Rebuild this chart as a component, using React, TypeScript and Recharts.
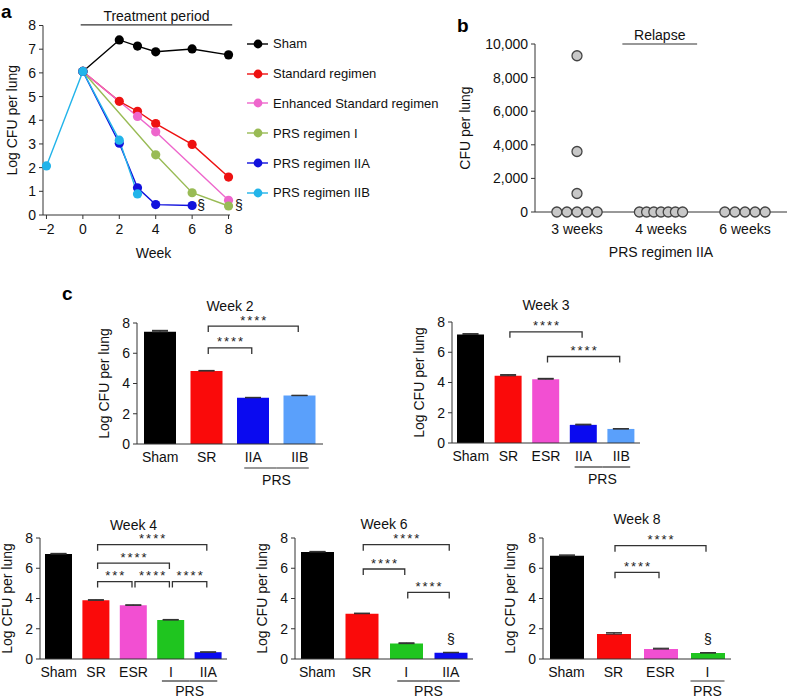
import React from 'react';
import {
  LineChart, Line, XAxis, YAxis, ReferenceLine, Legend,
  ScatterChart, Scatter, BarChart, Bar, Cell, ErrorBar, LabelList,
} from 'recharts';

const FONT = '"Liberation Sans", Arial, Helvetica, sans-serif';
const INK = '#111';
const AXIS = '#333';

// ---- panel a: log CFU per lung over time
const seriesNames = ['Sham', 'Standard regimen', 'Enhanced Standard regimen', 'PRS regimen I', 'PRS regimen IIA', 'PRS regimen IIB'];
const seriesColors = ['#000000', '#ee1111', '#ee66cc', '#99bb55', '#1111dd', '#22b4ea'];
const shamWeeks = [0, 2, 3, 4, 6, 8];
const shamLog = [6.06, 7.39, 7.13, 6.89, 7.01, 6.76];
const srWeeks = [0, 2, 3, 4, 6, 8];
const srLog = [6.06, 4.8, 4.38, 3.86, 2.98, 1.6];
const esrWeeks = [0, 3, 4, 8];
const esrLog = [6.06, 4.16, 3.51, 0.62];
const prs1Weeks = [0, 4, 6, 8];
const prs1Log = [6.06, 2.54, 0.94, 0.38];
const prs2aWeeks = [0, 2, 3, 4, 6];
const prs2aLog = [6.06, 3.03, 1.15, 0.44, 0.4];
const prs2bWeeks = [-2, 0, 2, 3];
const prs2bLog = [2.07, 6.06, 3.16, 0.89];
const weekTicks = [-2, 0, 2, 4, 6, 8];
const logTicksA = [0, 1, 2, 3, 4, 5, 6, 7, 8];
const sectionMarked = ['PRS regimen I', 'PRS regimen IIA'];

// ---- panel b: relapse, CFU per lung
const relapseGroups = ['3 weeks', '4 weeks', '6 weeks'];
const relapseCfu3 = [9300, 3600, 1100, 0, 0, 0, 0, 0];
const relapseCfu4 = [0, 0, 0, 0, 0, 0, 0];
const relapseCfu6 = [0, 0, 0, 0, 0];
const cfuTicks = [0, 2000, 4000, 6000, 8000, 10000];

// ---- panel c: per-week bars
const wk2Groups = ['Sham', 'SR', 'IIA', 'IIB'];
const wk2Log = [7.42, 4.83, 3.06, 3.2];
const wk2Err = [0.09, 0.03, 0.02, 0.02];
const wk2Brackets: [string, string, number, string][] = [['SR', 'IIB', 7.8, '****'], ['SR', 'IIA', 6.35, '****']];

const wk3Groups = ['Sham', 'SR', 'ESR', 'IIA', 'IIB'];
const wk3Log = [7.18, 4.45, 4.22, 1.2, 0.93];
const wk3Err = [0.05, 0.07, 0.05, 0.04, 0.02];
const wk3Brackets: [string, string, number, string][] = [['SR', 'IIA', 7.35, '****'], ['ESR', 'IIB', 5.72, '****']];

const wk4Groups = ['Sham', 'SR', 'ESR', 'I', 'IIA'];
const wk4Log = [6.94, 3.88, 3.55, 2.58, 0.45];
const wk4Err = [0.04, 0.04, 0.03, 0.03, 0.02];
const wk4Brackets: [string, string, number, string][] = [
  ['SR', 'IIA', 7.56, '****'], ['SR', 'I', 6.34, '****'],
  ['SR', 'ESR', 5.12, '***'], ['ESR', 'I', 5.12, '****'], ['I', 'IIA', 5.12, '****'],
];

const wk6Groups = ['Sham', 'SR', 'I', 'IIA'];
const wk6Log = [7.08, 3.0, 1.02, 0.42];
const wk6Err = [0.03, 0.03, 0.05, 0.02];
const wk6Marks = ['', '', '', '§'];
const wk6Brackets: [string, string, number, string][] = [['SR', 'IIA', 7.56, '****'], ['SR', 'I', 5.95, '****'], ['I', 'IIA', 4.4, '****']];

const wk8Groups = ['Sham', 'SR', 'ESR', 'I'];
const wk8Log = [6.83, 1.65, 0.66, 0.4];
const wk8Err = [0.05, 0.09, 0.05, 0.02];
const wk8Marks = ['', '', '', '§'];
const wk8Brackets: [string, string, number, string][] = [['SR', 'I', 7.49, '****'], ['SR', 'ESR', 5.73, '****']];

const logTicksC = [0, 2, 4, 6, 8];
const BAR_COLORS: Record<string, string> = {
  Sham: '#000000', SR: '#fa0a0a', ESR: '#f24fd2', I: '#1fc51f', IIA: '#0a0af0', IIB: '#5aa0fb',
};
const PRS_MEMBERS = ['I', 'IIA', 'IIB'];

const courseSeries = [
  { weeks: shamWeeks, log: shamLog },
  { weeks: srWeeks, log: srLog },
  { weeks: esrWeeks, log: esrLog },
  { weeks: prs1Weeks, log: prs1Log },
  { weeks: prs2aWeeks, log: prs2aLog },
  { weeks: prs2bWeeks, log: prs2bLog },
].map((s, i) => ({
  name: seriesNames[i],
  color: seriesColors[i],
  marked: sectionMarked.includes(seriesNames[i]),
  data: s.weeks.map((w, j) => ({ week: w, log: s.log[j] })),
}));

const relapsePoints = [relapseCfu3, relapseCfu4, relapseCfu6].flatMap((vals, g) => {
  const zeros = vals.filter((v) => v === 0).length;
  const step = Math.min(0.131, 0.6 / zeros);
  let k = 0;
  return vals.map((v) => {
    if (v !== 0) return { x: g + 1, y: v };
    const x = g + 1 + (k - (zeros - 1) / 2) * step;
    k += 1;
    return { x, y: v };
  });
});

const minus = (v: number) => (v < 0 ? `\u2212${Math.abs(v)}` : String(v));

function PanelLetter({ ch, left, top }: { ch: string; left: number; top: number }) {
  return (
    <div style={{ position: 'absolute', left, top, fontSize: 19, lineHeight: '19px', fontWeight: 700, color: '#000' }}>{ch}</div>
  );
}

function SeriesKey({ payload }: any) {
  return (
    <div style={{ fontFamily: FONT, fontSize: 13, color: INK }}>
      {(payload || []).map((p: any) => (
        <div key={p.value} style={{ height: 29.8, display: 'flex', alignItems: 'center', whiteSpace: 'nowrap' }}>
          <svg width={21} height={10} style={{ flex: 'none' }}>
            <line x1={0} y1={5} x2={21} y2={5} stroke={p.color} strokeWidth={1.4} />
            <circle cx={11} cy={5} r={4.4} fill={p.color} />
          </svg>
          <span style={{ marginLeft: 5 }}>{p.value}</span>
        </div>
      ))}
    </div>
  );
}

function CourseChart() {
  return (
    <LineChart width={440} height={262} margin={{ top: 25.5, right: 210, bottom: 0, left: 0 }}>
      <XAxis
        type="number" dataKey="week" domain={[-2.19, 8.08]} ticks={weekTicks} tickFormatter={minus}
        stroke={AXIS} tickSize={4} tickMargin={5} height={47}
        tick={{ fill: INK, fontSize: 14, fontFamily: FONT }}
        label={{ value: 'Week', position: 'insideBottom', offset: 4, dx: 17, style: { fill: INK, fontSize: 14, fontFamily: FONT } }}
      />
      <YAxis
        type="number" domain={[0, 8]} ticks={logTicksA} width={43} stroke={AXIS} tickSize={4} tickMargin={3}
        tick={{ fill: INK, fontSize: 14, fontFamily: FONT }}
        label={{ value: 'Log CFU per lung', angle: -90, position: 'insideLeft', offset: 12, style: { textAnchor: 'middle', fill: INK, fontSize: 14, fontFamily: FONT } }}
      />
      <ReferenceLine
        segment={[{ x: -0.12, y: 8.03 }, { x: 8.2, y: 8.03 }]} stroke={AXIS} strokeWidth={1.2} ifOverflow="visible"
        label={{ value: 'Treatment period', position: 'top', offset: 4, style: { fill: INK, fontSize: 14, fontFamily: FONT } }}
      />
      {courseSeries.map((s) => {
        const last = s.data.length - 1;
        return (
          <Line
            key={s.name} name={s.name} data={s.data} dataKey="log" stroke={s.color} strokeWidth={1.4}
            isAnimationActive={false}
            dot={(p: any) => (
              <g key={`${s.name}-${p.index}`}>
                <circle cx={p.cx} cy={p.cy} r={4.6} fill={s.color} />
                {s.marked && p.index === last ? (
                  <text x={p.cx + (s.name === 'PRS regimen I' ? 6.5 : 5)} y={p.cy + 4} fontSize={14} fontFamily={FONT} fill={INK}>§</text>
                ) : null}
              </g>
            )}
            activeDot={false}
          />
        );
      })}
      <Legend
        layout="vertical" align="center" verticalAlign="middle" content={SeriesKey as any}
        itemSorter={(item: any) => seriesNames.indexOf(item.value)}
        wrapperStyle={{ left: 247, top: 29, width: 190 }}
      />
    </LineChart>
  );
}

function RelapseChart() {
  return (
    <ScatterChart width={348} height={262} margin={{ top: 44, right: 1, bottom: 0, left: 0 }}>
      <XAxis
        type="number" dataKey="x" domain={[0.5, 3.5]} ticks={[1, 2, 3]} tickFormatter={(v: number) => relapseGroups[v - 1]}
        stroke={AXIS} tickLine={false} tickSize={0} tickMargin={12} height={50}
        tick={{ fill: INK, fontSize: 14, fontFamily: FONT }}
        label={{ value: 'PRS regimen IIA', position: 'insideBottom', offset: 5, style: { fill: INK, fontSize: 14, fontFamily: FONT } }}
      />
      <YAxis
        type="number" dataKey="y" domain={[0, 10000]} ticks={cfuTicks} width={95} stroke={AXIS} tickSize={4} tickMargin={3}
        tickFormatter={(v: number) => v.toLocaleString('en-US')}
        tick={{ fill: INK, fontSize: 14, fontFamily: FONT }}
        label={{ value: 'CFU per lung', angle: -90, position: 'insideLeft', offset: 25, style: { textAnchor: 'middle', fill: INK, fontSize: 14, fontFamily: FONT } }}
      />
      <ReferenceLine
        segment={[{ x: 1.54, y: 10000 }, { x: 2.43, y: 10000 }]} stroke={AXIS} strokeWidth={1.2} ifOverflow="visible"
        label={{ value: 'Relapse', position: 'top', offset: 4, style: { fill: INK, fontSize: 14, fontFamily: FONT } }}
      />
      <Scatter
        data={relapsePoints} isAnimationActive={false}
        shape={(p: any) => <circle cx={p.cx} cy={p.cy} r={5} fill="#c8c8c8" stroke="#444" strokeWidth={1.3} />}
      />
    </ScatterChart>
  );
}

const bracketShape = (stars: string) => (p: any) => {
  const l = p.x1 + 1.5;
  const r = p.x2 - 1.5;
  const y = p.y1;
  return (
    <g>
      <path d={`M${l},${y + 6}V${y}H${r}V${y + 6}`} fill="none" stroke={AXIS} strokeWidth={1.3} />
      <text x={(l + r) / 2 + 1} y={y - 1.5} textAnchor="middle" fontSize={13} fontFamily={FONT} fill="#222" style={{ letterSpacing: 2 }}>{stars}</text>
    </g>
  );
};

function GroupTick({ x, y, payload, groups, band, lineDy, prsDy }: any) {
  const name = payload.value;
  const index = groups.indexOf(name);
  const prs = groups.map((g: string, i: number) => (PRS_MEMBERS.includes(g) ? i : -1)).filter((i: number) => i >= 0);
  const first = prs[0];
  const last = prs[prs.length - 1];
  const inPrs = PRS_MEMBERS.includes(name);
  const single = first === last;
  const ext = single ? 17 : 9;
  const left = index === first ? x - ext : x - band / 2;
  const right = index === last ? x + ext : x + band / 2;
  return (
    <g>
      <text x={x} y={y} dy="0.71em" textAnchor="middle" fontSize={14} fontFamily={FONT} fill={INK}>{name}</text>
      {inPrs ? <line x1={left} x2={right} y1={y + lineDy} y2={y + lineDy} stroke={AXIS} strokeWidth={1.2} /> : null}
      {inPrs && index === last ? (
        <text x={x - ((last - first) * band) / 2} y={y + prsDy} textAnchor="middle" fontSize={14} fontFamily={FONT} fill={INK}>PRS</text>
      ) : null}
    </g>
  );
}

type Box = {
  axisLeft: number; axisRight: number; plotTop: number; plotBottom: number; titleY: number; barSize: number;
  lineDy: number; prsDy: number;
};

function WeekPanel({ title, groups, log, err, marks, brackets, box }: {
  title: string; groups: string[]; log: number[]; err: number[]; marks?: string[];
  brackets: [string, string, number, string][]; box: Box;
}) {
  const yw = 60;
  const plotW = box.axisRight - box.axisLeft;
  const band = plotW / groups.length;
  const data = groups.map((g, i) => ({ group: g, log: log[i], err: [0, err[i]], mark: marks ? marks[i] : '' }));
  const cx = (box.axisLeft + box.axisRight) / 2;
  return (
    <>
      <div style={{ position: 'absolute', left: cx - 60, width: 120, top: box.titleY - 7, textAlign: 'center', fontSize: 14, lineHeight: '14px', color: INK }}>{title}</div>
      <div style={{ position: 'absolute', left: box.axisLeft - yw, top: box.plotTop - 10 }}>
        <BarChart
          width={plotW + yw + 2} height={box.plotBottom - box.plotTop + 10 + 48} data={data}
          margin={{ top: 10, right: 2, bottom: 0, left: 0 }}
        >
          <XAxis
            dataKey="group" type="category" interval={0} stroke={AXIS} tickLine={false} tickSize={0} tickMargin={8} height={48}
            tick={(p: any) => <GroupTick {...p} groups={groups} band={band} lineDy={box.lineDy} prsDy={box.prsDy} />}
          />
          <YAxis
            type="number" domain={[0, 8]} ticks={logTicksC} width={yw} stroke={AXIS} tickSize={4} tickMargin={3}
            tick={{ fill: INK, fontSize: 14, fontFamily: FONT }}
            label={{ value: 'Log CFU per lung', angle: -90, position: 'insideLeft', offset: yw - 33, style: { textAnchor: 'middle', fill: INK, fontSize: 14, fontFamily: FONT } }}
          />
          <Bar dataKey="log" barSize={box.barSize} isAnimationActive={false}>
            {groups.map((g) => <Cell key={g} fill={BAR_COLORS[g]} />)}
            <ErrorBar dataKey="err" width={8} stroke="#333" strokeWidth={1.2} direction="y" />
            {marks ? <LabelList dataKey="mark" position="top" offset={9} fill={INK} fontSize={14} fontFamily={FONT} /> : null}
          </Bar>
          {brackets.map(([a, b, lvl, stars]) => (
            <ReferenceLine
              key={`${a}-${b}-${lvl}`} segment={[{ x: a, y: lvl }, { x: b, y: lvl }]} ifOverflow="visible"
              shape={bracketShape(stars)}
            />
          ))}
        </BarChart>
      </div>
    </>
  );
}

export default function App() {
  return (
    <div style={{ position: 'absolute', left: 0, top: 0, width: 788, height: 700, background: '#fff', overflow: 'hidden', fontFamily: FONT }}>
      <div style={{ position: 'absolute', left: 0, top: 0 }}><CourseChart /></div>
      <div style={{ position: 'absolute', left: 440, top: 0 }}><RelapseChart /></div>
      <WeekPanel title="Week 2" groups={wk2Groups} log={wk2Log} err={wk2Err} brackets={wk2Brackets}
        box={{ axisLeft: 137, axisRight: 323, plotTop: 323, plotBottom: 444, titleY: 305.5, barSize: 32, lineDy: 16, prsDy: 33 }} />
      <WeekPanel title="Week 3" groups={wk3Groups} log={wk3Log} err={wk3Err} brackets={wk3Brackets}
        box={{ axisLeft: 452, axisRight: 640, plotTop: 322, plotBottom: 443, titleY: 304.5, barSize: 27, lineDy: 16, prsDy: 33 }} />
      <WeekPanel title="Week 4" groups={wk4Groups} log={wk4Log} err={wk4Err} brackets={wk4Brackets}
        box={{ axisLeft: 40, axisRight: 227, plotTop: 538, plotBottom: 659, titleY: 525, barSize: 27, lineDy: 14, prsDy: 29 }} />
      <WeekPanel title="Week 6" groups={wk6Groups} log={wk6Log} err={wk6Err} marks={wk6Marks} brackets={wk6Brackets}
        box={{ axisLeft: 295, axisRight: 473, plotTop: 538, plotBottom: 659, titleY: 523.5, barSize: 33, lineDy: 14, prsDy: 29 }} />
      <WeekPanel title="Week 8" groups={wk8Groups} log={wk8Log} err={wk8Err} marks={wk8Marks} brackets={wk8Brackets}
        box={{ axisLeft: 543, axisRight: 731, plotTop: 538, plotBottom: 659, titleY: 518.5, barSize: 34, lineDy: 14, prsDy: 29 }} />
      <PanelLetter ch="a" left={1} top={2} />
      <PanelLetter ch="b" left={457} top={16} />
      <PanelLetter ch="c" left={62} top={284} />
    </div>
  );
}
